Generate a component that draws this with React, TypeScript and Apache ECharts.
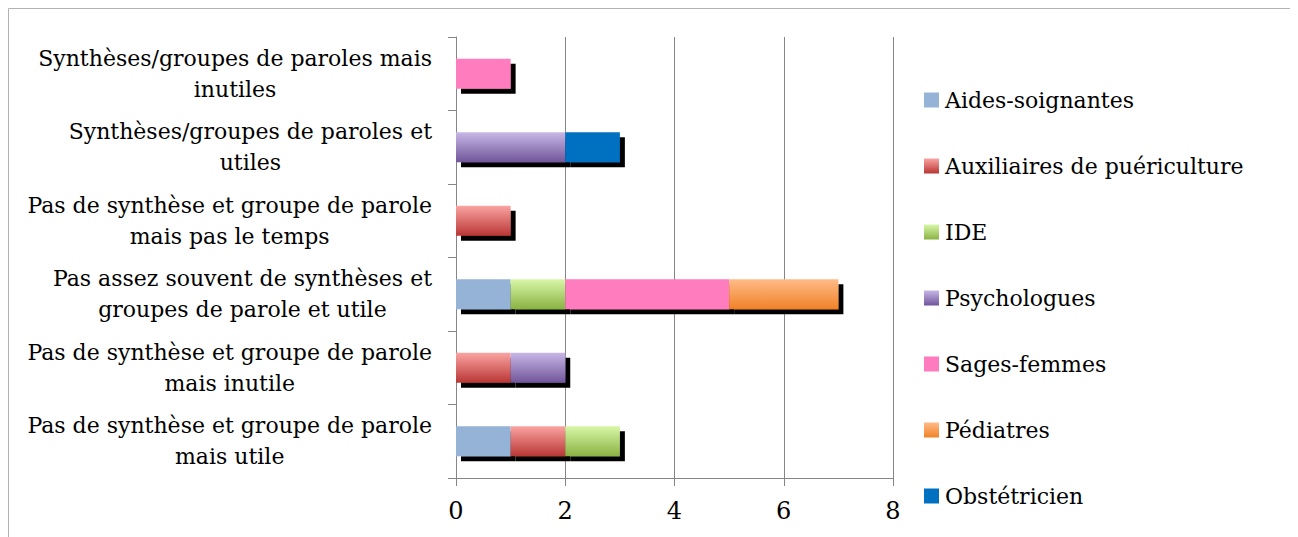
import React, { useEffect, useRef } from "react";
import * as echarts from "echarts";

const categories = [
  "Pas de synthèse et groupe de parole\nmais utile",
  "Pas de synthèse et groupe de parole\nmais inutile",
  "Pas assez souvent de synthèses et\ngroupes de parole et utile",
  "Pas de synthèse et groupe de parole\nmais pas le temps",
  "Synthèses/groupes de paroles et\nutiles",
  "Synthèses/groupes de paroles mais\ninutiles",
];

const seriesNames = [
  "Aides-soignantes",
  "Auxiliaires de puériculture",
  "IDE",
  "Psychologues",
  "Sages-femmes",
  "Pédiatres",
  "Obstétricien",
];

const aidesSoignantes = [1, 0, 1, 0, 0, 0];
const auxiliaires = [1, 1, 0, 1, 0, 0];
const ide = [1, 0, 1, 0, 0, 0];
const psychologues = [0, 1, 0, 0, 2, 0];
const sagesFemmes = [0, 0, 3, 0, 0, 1];
const pediatres = [0, 0, 2, 0, 0, 0];
const obstetricien = [0, 0, 0, 0, 1, 0];

const seriesValues = [aidesSoignantes, auxiliaires, ide, psychologues, sagesFemmes, pediatres, obstetricien];

const xTicks = { min: 0, max: 8, interval: 2 };

const grad = (top: string, bottom: string) => ({
  type: "linear",
  x: 0,
  y: 0,
  x2: 0,
  y2: 1,
  colorStops: [
    { offset: 0, color: top },
    { offset: 1, color: bottom },
  ],
});

const seriesColors: any[] = [
  "#95B3D7",
  grad("#FAA4A2", "#B93634"),
  grad("#D8F7A7", "#8AB243"),
  grad("#C8B7E6", "#70559A"),
  "#FF7BBF",
  grad("#FFBB87", "#F08228"),
  "#0070C0",
];

const FONT = "DejaVu Serif";

export default function App() {
  const ref = useRef<HTMLDivElement>(null);
  useEffect(() => {
    if (!ref.current) return;
    const chart = echarts.init(ref.current, undefined, { renderer: "svg" });
    chart.setOption({
      animation: false,
      textStyle: { fontFamily: FONT },
      grid: { left: 448, top: 29, width: 437, height: 441, containLabel: false },
      graphic: [
        {
          type: "rect",
          silent: true,
          shape: { x: 0.5, y: 0.5, width: 1285, height: 600 },
          style: { fill: "none", stroke: "#b3b3b3", lineWidth: 1 },
        },
      ],
      legend: {
        orient: "vertical",
        left: 916,
        top: 81,
        padding: 0,
        icon: "rect",
        itemWidth: 15,
        itemHeight: 15,
        itemGap: 44,
        data: seriesNames,
        itemStyle: { shadowBlur: 0, shadowOffsetX: 0, shadowOffsetY: 0, shadowColor: "transparent" },
        textStyle: { fontFamily: FONT, fontSize: 22, lineHeight: 22, color: "#000", padding: [0, 0, 0, 1] },
      },
      xAxis: {
        type: "value",
        min: xTicks.min,
        max: xTicks.max,
        interval: xTicks.interval,
        axisLine: { show: true, lineStyle: { color: "#868686", width: 1 } },
        axisTick: { show: true, length: 8, lineStyle: { color: "#868686" } },
        splitLine: { show: true, lineStyle: { color: "#868686", width: 1 } },
        axisLabel: { fontFamily: FONT, fontSize: 24, color: "#000", margin: 21 },
      },
      yAxis: {
        type: "category",
        data: categories,
        axisLine: { show: true, lineStyle: { color: "#868686", width: 1 } },
        axisTick: { show: true, length: 8, lineStyle: { color: "#868686" } },
        axisLabel: {
          fontFamily: FONT,
          fontSize: 22,
          lineHeight: 31,
          color: "#000",
          margin: 24,
          align: "right",
          formatter: (v: string) =>
            v
              .split("\n")
              .map((l) => `{c|${l}}`)
              .join("\n"),
          rich: {
            c: { align: "center", fontFamily: FONT, fontSize: 22, lineHeight: 31, color: "#000" },
          },
        },
      },
      series: seriesNames.map((name, i) => ({
        name,
        type: "bar",
        stack: "total",
        barWidth: 30,
        data: seriesValues[i].map((v) => (v === 0 ? "-" : v)),
        itemStyle: {
          color: seriesColors[i],
          shadowColor: "#000",
          shadowBlur: 0,
          shadowOffsetX: 5,
          shadowOffsetY: 5,
        },
        emphasis: { disabled: true },
      })),
    });
    return () => chart.dispose();
  }, []);
  return <div ref={ref} style={{ width: 1287, height: 529 }} />;
}
